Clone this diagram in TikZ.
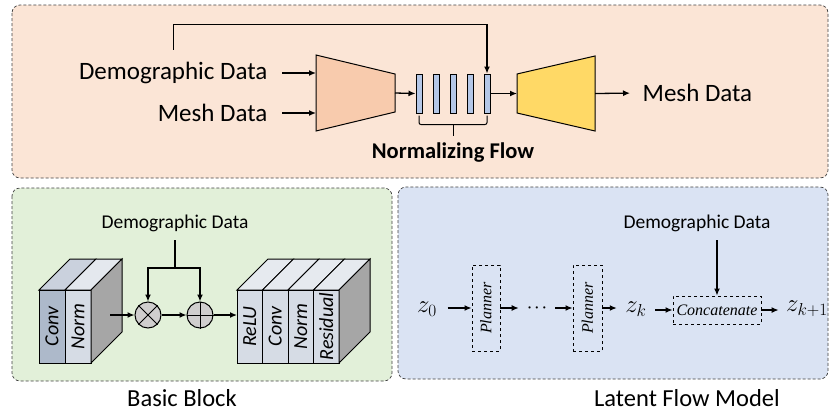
\documentclass[tikz,border=0pt]{standalone}
\usepackage{fontspec}
\setmainfont{Carlito}
\newfontfamily\planfont{Liberation Serif}
\usepackage{tikz}
\usetikzlibrary{arrows.meta, calc, positioning}
\definecolor{toppeach}{HTML}{FBE5D6}
\definecolor{encpeach}{HTML}{F8CBAD}
\definecolor{decyellow}{HTML}{FFD966}
\definecolor{barblue}{HTML}{B4C7E7}
\definecolor{leftgreen}{HTML}{E2F0D9}
\definecolor{rightblue}{HTML}{DAE3F3}
\definecolor{convgray}{HTML}{ADB9CA}
\definecolor{normgray}{HTML}{D6DCE5}
\definecolor{sidegray}{HTML}{A6A6A6}
\definecolor{opgray}{HTML}{D0CECE}

\begin{document}
\begin{tikzpicture}[x=1pt, y=-1pt, line width=1.3pt, >={Latex[length=7pt,width=6pt]}]
\tikzstyle{panel}=[draw=black!75, densely dashed, line width=0.7pt, rounded corners=8pt]
\tikzstyle{bigtxt}=[inner sep=0pt, font=\fontsize{25}{25}\selectfont]
\tikzstyle{smalltxt}=[inner sep=0pt, font=\fontsize{19.5}{20}\selectfont]
\tikzstyle{captxt}=[inner sep=0pt, anchor=base, font=\fontsize{24.5}{25}\selectfont]
\tikzstyle{bar}=[draw, fill=barblue, minimum width=6pt, minimum height=39pt, inner sep=0pt, line width=1pt]
\tikzstyle{op}=[circle, draw, fill=opgray, minimum size=26pt, inner sep=0pt, line width=1pt]
\tikzstyle{dbox}=[draw, dashed, line width=0.9pt, inner sep=0pt, font=\planfont\itshape\fontsize{16}{16}\selectfont]
\tikzstyle{zlbl}=[inner sep=0pt, font=\fontsize{24}{24}\selectfont]
\tikzstyle{slicetxt}=[rotate=90, inner sep=0pt, font=\itshape\fontsize{20}{20}\selectfont]

\useasboundingbox (0,0) rectangle (830,413);
\draw[panel, fill=toppeach] (12,5) rectangle (828,178);
\draw[panel, fill=leftgreen] (12,188) rectangle (392,381);
\draw[panel, fill=rightblue] (398,187) rectangle (828,379);

\node[bigtxt, anchor=east] (demo) at (268,73) {Demographic Data};
\node[bigtxt, anchor=east] (mesh) at (268,113) {Mesh Data};
\coordinate (e1) at (316,55);
\coordinate (e2) at (395,74);
\coordinate (e3) at (395,112);
\coordinate (e4) at (316,131);
\coordinate (d1) at (517,74);
\coordinate (d2) at (595,56);
\coordinate (d3) at (595,131);
\coordinate (d4) at (517,113);
\draw[fill=encpeach, line width=1pt] (e1)--(e2)--(e3)--(e4)--cycle;
\draw[fill=decyellow, line width=1pt] (d1)--(d2)--(d3)--(d4)--cycle;
\foreach \i in {1,...,5}
   \node[bar] (b\i) at (402+17*\i,93.5) {};
\node[bigtxt, anchor=west] (meshout) at (642,93) {Mesh Data};
\node[inner sep=0pt, font=\bfseries\fontsize{22.5}{22.5}\selectfont] (nf) at (453,153) {Normalizing Flow};

\draw[->, shorten <=14pt] (demo.east) -- (demo.east -| e1);
\draw[->, shorten <=14pt] (mesh.east) -- (mesh.east -| e1);
\draw[->] ($(e2)!.5!(e3)$) -- (b1.west);
\draw[->] (b5.east) -- (b5.east -| d1);
\draw[->, shorten >=12pt] ($(d2)!.5!(d3)$) -- (meshout.west);
\draw[->] ([yshift=12pt]demo.north) -- ++(0,-25) -| (b5.north);
\draw[line width=1pt, rounded corners=2pt] ([yshift=-2pt]b1.south) -- ++(0,9) -| ([yshift=-2pt]b5.south);
\draw[line width=1pt] ($(b1.south)!.5!(b5.south)+(0,11)$) -- ++(0,11);

% basic block
\foreach \xa/\xb/\col/\txt in {39/65/convgray/Conv, 65/91/normgray/Norm} {
   \fill[\col] (\xa,290) rectangle (\xb,363);
   \draw[line width=1pt, fill=\col!65!white] (\xa,290) -- ++(31,-31) -- (\xb+31,259) -- (\xb,290) -- cycle;
   \draw[line width=1pt] (\xa,290) rectangle (\xb,363);
   \node[slicetxt] at ({(\xa+\xb)/2},326.5) {\txt};
}
\draw[line width=1pt, fill=sidegray] (91,290) -- (122,259) -- (122,332) -- (91,363) -- cycle;
\foreach \xa/\xb/\col/\txt in {237/262.5/normgray/ReLU, 262.5/288/normgray/Conv, 288/313.5/normgray/Norm, 313.5/339/normgray/Residual} {
   \fill[\col] (\xa,290) rectangle (\xb,363);
   \draw[line width=1pt, fill=\col!60!white] (\xa,290) -- ++(31,-31) -- (\xb+31,259) -- (\xb,290) -- cycle;
   \draw[line width=1pt] (\xa,290) rectangle (\xb,363);
   \node[slicetxt] at ({(\xa+\xb)/2},326.5) {\txt};
}
\draw[line width=1pt, fill=sidegray] (339,290) -- (370,259) -- (370,332) -- (339,363) -- cycle;

\node[smalltxt] (demob) at (175,223) {Demographic Data};
\coordinate (split) at (175,268);
\coordinate (lbout) at (110,315);
\coordinate (rbin) at (237,315);
\node[op] (mul) at (148,315) {};
\node[op] (add) at (200,315) {};
\draw[line width=1pt] (mul.north west) -- (mul.south east) (mul.north east) -- (mul.south west);
\draw[line width=1pt] (add.north) -- (add.south) (add.west) -- (add.east);
\draw[shorten <=8pt] (demob.south) -- (split);
\draw[->] (split) -| (mul.north);
\draw[->] (split) -| (add.north);
\draw[->] (lbout) -- (mul.west);
\draw[->] (mul.east) -- (add.west);
\draw[->] (add.east) -- (rbin);
\node[captxt] (bb) at (182,406) {Basic Block};

% latent flow
\node[zlbl] (z0) at (427,309) {$z_0$};
\node[dbox, minimum width=28pt, minimum height=86pt] (p1) at (486,308) {\rotatebox{90}{Planner}};
\node[inner sep=0pt, font=\boldmath\fontsize{15}{15}\selectfont] (dots) at (537,308) {$\cdots$};
\node[dbox, minimum width=29pt, minimum height=86pt] (p2) at (587.5,308) {\rotatebox{90}{Planner}};
\node[zlbl] (zk) at (636,309) {$z_k$};
\node[dbox, minimum width=88pt, minimum height=28pt] (cat) at (717,310) {Concatenate};
\node[zlbl] (zk1) at (807,309) {$z_{k+1}$};
\node[smalltxt] (demor) at (697,223) {Demographic Data};
\draw[->, shorten <=10pt] (z0.east |- p1.west) -- (p1.west);
\draw[->, shorten >=8pt] (p1.east) -- (dots.west |- p1.east);
\draw[->, shorten <=8pt] (dots.east |- p2.west) -- (p2.west);
\draw[->, shorten >=8pt] (p2.east) -- (zk.west |- p2.east);
\draw[->, shorten <=8pt] (zk.east |- cat.west) -- (cat.west);
\draw[->, shorten >=7pt] (cat.east) -- (zk1.west |- cat.east);
\draw[->, shorten <=8pt] (demor.south -| cat.north) -- (cat.north);
\node[captxt] (lfm) at (687,406) {Latent Flow Model};
\end{tikzpicture}
\end{document}
